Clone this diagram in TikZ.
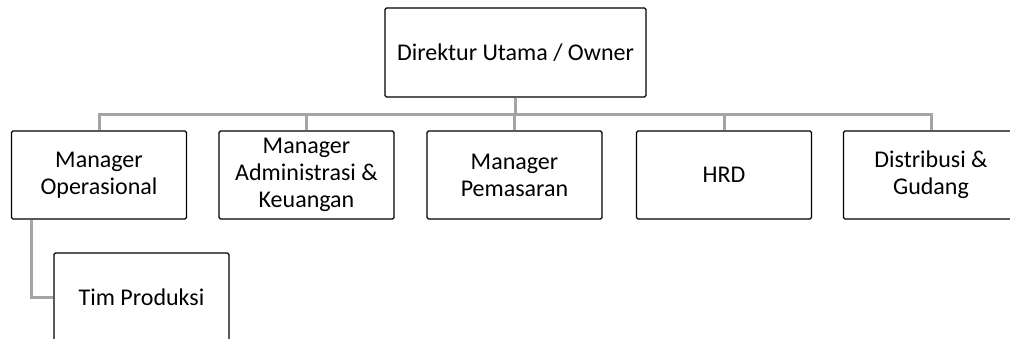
\documentclass[tikz,border=0pt]{standalone}
\usepackage{fontspec}
\setmainfont{Carlito}
\usepackage{xcolor}
\usepackage{tikz}
\usetikzlibrary{calc}

\definecolor{linegray}{RGB}{165,165,165}
\tikzset{
    unit/.style={draw=black, line width=1.3pt, rounded corners=1.5pt, fill=white,
        minimum width=175pt, minimum height=88pt, align=center,
        font=\fontsize{24}{27}\selectfont, inner sep=2pt},
    conn/.style={draw=linegray, line width=3pt}
}

\begin{document}
\begin{tikzpicture}[x=1pt, y=-1pt]
            \useasboundingbox (0,0) rectangle (1010,338);
            \clip (0,0) rectangle (1010,338);

            % Draw the top box
            \node[unit, minimum width=261pt, minimum height=89pt] (owner) at (515.5,52.5) {Direktur Utama / Owner};

            % Draw the managers
            \node[unit] (ops) at (99,175) {Manager\\Operasional};
            \node[unit] (adm) at (306.5,175) {Manager\\Administrasi \&\\Keuangan};
            \node[unit] (mkt) at (514.5,175) {Manager\\Pemasaran};
            \node[unit] (hrd) at (724,175) {HRD};
            \node[unit] (dist) at (931,175) {Distribusi \&\\Gudang};

            % Draw the sub unit
            \node[unit, minimum height=89pt] (prod) at (141.5,297.5) {Tim Produksi};

            % Draw the connectors
            \foreach \m in {ops,adm,mkt,hrd,dist}
                \draw[conn] (owner.south) -- ++(0,17) -| (\m.north);
            \draw[conn] ([xshift=-68pt]ops.south) |- (prod.west);
        \end{tikzpicture}
\end{document}
